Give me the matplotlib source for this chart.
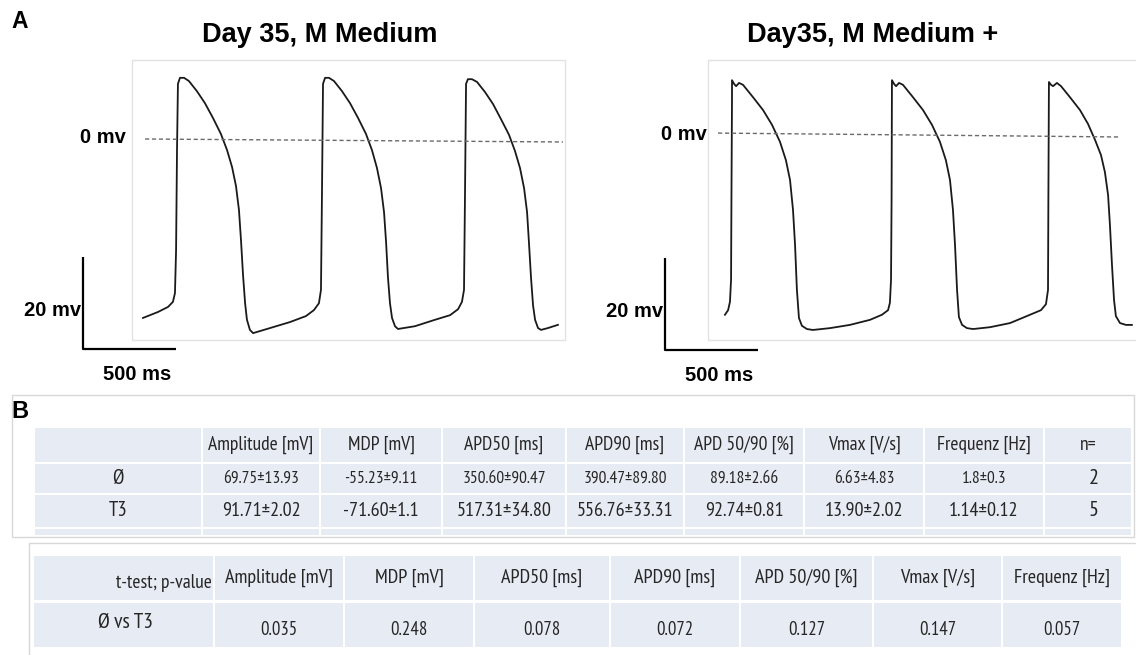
import matplotlib
matplotlib.use("Agg")
import matplotlib.pyplot as plt
from matplotlib.patches import Rectangle

# traced action potentials, (time [ms], voltage [mV])
trace_left = [
    (59, -38.9), (140, -37.6), (194, -36.5), (220, -35.4), (231, -33.5), (237, -24.1), (242, -2.4),
    (247, 12.0), (258, 13.3), (280, 13.3), (306, 12.6), (349, 10.4), (392, 7.8), (435, 4.6),
    (478, 1.1), (511, -2.4), (538, -6.1), (559, -10.2), (575, -15.4), (586, -22.0), (597, -29.6),
    (608, -35.7), (618, -39.3), (634, -41.5), (651, -42.2), (742, -41.1), (849, -39.8), (935, -38.5),
    (978, -37.2), (1005, -35.7), (1016, -32.8), (1021, -13.3), (1027, 12.0),
    (1038, 13.3), (1059, 13.3), (1086, 12.6), (1129, 10.4), (1172, 7.8), (1215, 4.6), (1258, 1.1),
    (1290, -2.4), (1317, -6.3), (1339, -10.7), (1355, -15.9), (1366, -22.4), (1376, -30.0),
    (1387, -35.7), (1398, -38.9), (1414, -40.7), (1430, -41.3), (1521, -40.7), (1629, -39.3),
    (1710, -38.3), (1753, -37.0), (1774, -35.4), (1785, -32.8), (1790, -13.3), (1796, 12.0),
    (1806, 13.0), (1828, 13.0), (1855, 12.4), (1898, 10.2), (1941, 7.6), (1984, 4.3), (2027, 0.9),
    (2059, -2.6), (2086, -6.3), (2108, -10.7), (2124, -15.9), (2134, -22.4), (2145, -30.0),
    (2156, -36.1), (2167, -39.3), (2183, -41.1), (2199, -41.5), (2236, -41.1), (2290, -40.4),
]
trace_right = [
    (91, -39.3), (108, -38.3), (118, -36.5), (124, -31.7), (126, -14.3), (129, 7.4), (129, 11.7),
    (140, 10.9), (151, 10.4), (167, 11.1), (188, 10.7), (242, 8.0), (296, 5.2), (344, 2.0),
    (387, -1.7), (419, -5.7), (441, -10.0), (457, -16.5), (468, -24.1), (478, -33.9), (489, -40.0),
    (505, -41.7), (532, -42.4), (564, -42.6), (656, -42.2), (763, -41.5), (871, -40.4), (935, -39.3),
    (968, -38.3), (978, -36.7), (984, -31.7), (987, -14.3), (989, 11.7),
    (1000, 10.9), (1011, 10.4), (1027, 11.1), (1048, 10.7), (1102, 8.0), (1156, 5.2), (1204, 2.0),
    (1247, -1.7), (1279, -5.7), (1301, -10.0), (1317, -16.5), (1328, -24.1), (1339, -33.9),
    (1349, -39.8), (1366, -41.5), (1392, -42.2), (1425, -42.4), (1516, -42.0), (1624, -41.1),
    (1731, -39.3), (1790, -38.3), (1817, -37.0), (1828, -33.9), (1830, -14.3), (1833, 11.3),
    (1844, 10.7), (1855, 10.4), (1876, 11.1), (1898, 10.4), (1946, 8.0), (2000, 5.2), (2043, 2.2),
    (2081, -1.3), (2113, -4.6), (2134, -8.3), (2151, -13.3), (2161, -19.8), (2172, -28.5),
    (2183, -36.1), (2193, -39.6), (2215, -41.1), (2247, -41.5), (2279, -41.5),
]
# 0 mV reference lines (start, end)
zero_left = [(70, 0.0), (2317, -0.65)]
zero_right = [(54, 0.2), (2215, -0.65)]

titles = ["Day 35, M Medium", "Day35, M Medium +"]
scale_ms = 500
scale_mv = 20

# table B
col_names = ["Amplitude [mV]", "MDP [mV]", "APD50 [ms]", "APD90 [ms]", "APD 50/90 [%]",
             "Vmax [V/s]", "Frequenz [Hz]", "n="]
row_names = ["Ø", "T3"]
ctrl_vals = ["69.75±13.93", "-55.23±9.11", "350.60±90.47", "390.47±89.80", "89.18±2.66",
             "6.63±4.83", "1.8±0.3", "2"]
t3_vals = ["91.71±2.02", "-71.60±1.1", "517.31±34.80", "556.76±33.31", "92.74±0.81",
           "13.90±2.02", "1.14±0.12", "5"]
ttest_cols = col_names[:-1]
p_vals = ["0.035", "0.248", "0.078", "0.072", "0.127", "0.147", "0.057"]

W, H = 1136, 655
fig = plt.figure(figsize=(W / 100, H / 100), dpi=100)

# background axes in pixel units for labels and tables
bg = fig.add_axes([0, 0, 1, 1])
bg.set_xlim(0, W)
bg.set_ylim(H, 0)
bg.axis("off")

BOLD = "Liberation Sans"
TAB = "PT Sans Narrow"
CELL = "#e7ebf3"
TXT = "#262626"


def trace_panel(px_left, px_right, x0, y0, trace, zero, box_right, clip_box):
    # px per ms / px per mV taken from the scale bars
    kx, ky = 0.186, 4.6
    ax = fig.add_axes([px_left / W, 1 - 392 / H, (px_right - px_left) / W, (392 - 45) / H])
    ax.set_xlim((px_left - x0) / kx, (px_right - x0) / kx)
    ax.set_ylim((y0 - 392) / ky, (y0 - 45) / ky)
    ax.axis("off")
    ax.patch.set_alpha(0)
    ax.add_patch(Rectangle((0, (y0 - 340) / ky), box_right, 280 / ky, fc="none",
                           ec="#e2e2e2", lw=1, clip_on=clip_box))
    t, v = zip(*trace)
    ax.plot(t, v, color="#1a1a1a", lw=1.3, solid_joinstyle="round")
    zt, zv = zip(*zero)
    ax.plot(zt, zv, color="#6a6a6a", lw=1, ls=(0, (3, 2)))
    return ax


axl = trace_panel(0, 568, 132, 139, trace_left, zero_left, 2328, False)
axr = trace_panel(570, 1136, 708, 134, trace_right, zero_right, 2330, True)

# scale bars and voltage labels
for ax, bx, by in [(axl, -263, -45.7), (axr, -231, -47.0)]:
    ax.plot([bx, bx, bx + scale_ms], [by + scale_mv, by, by], color="black", lw=1.6,
            clip_on=False, solid_capstyle="butt")
    ax.text(bx - 8, by + 8.5, "%d mv" % scale_mv, ha="right", va="center",
            family=BOLD, weight="bold", fontsize=14.5)
    ax.text(bx + scale_ms / 2 + 40, by - 5.6, "%d ms" % scale_ms, ha="center", va="center",
            family=BOLD, weight="bold", fontsize=14.5)
axl.text(-32, 0.4, "0 mv", ha="right", va="center", family=BOLD, weight="bold", fontsize=14.5)
axr.text(-5, -0.2, "0 mv", ha="right", va="center", family=BOLD, weight="bold", fontsize=14.5)

bg.text(320, 35, titles[0], ha="center", va="center", family=BOLD, weight="bold", fontsize=19.5)
bg.text(873, 35, titles[1], ha="center", va="center", family=BOLD, weight="bold", fontsize=19.5)
bg.text(20, 21, "A", ha="center", va="center", family=BOLD, weight="bold", fontsize=16.5)
bg.text(20, 411, "B", ha="center", va="center", family=BOLD, weight="bold", fontsize=17)


def cells(xs, rows):
    for y0, y1 in rows:
        for x0, x1 in zip(xs[:-1], xs[1:]):
            bg.add_patch(Rectangle((x0 + 1, y0), x1 - x0 - 2, y1 - y0, fc=CELL, ec="none"))


# table 1: means
bg.add_patch(Rectangle((12, 395), 1122, 142, fc="none", ec="#d8d8d8", lw=1))
xs1 = [34, 202, 320, 442, 566, 684, 804, 924, 1044, 1132]
cells(xs1, [(428, 462), (464, 493), (495, 527), (529, 535)])
mid1 = [(a + b) / 2 for a, b in zip(xs1[:-1], xs1[1:])]
for x, name in zip(mid1[1:], col_names):
    bg.text(x, 445, name, ha="center", va="center", family=TAB, fontsize=14, color=TXT)
bg.text(mid1[0], 478, row_names[0], ha="center", va="center", family=TAB, fontsize=15, color=TXT)
bg.text(mid1[0], 510, row_names[1], ha="center", va="center", family=TAB, fontsize=15, color=TXT)
for i, (x, a, b) in enumerate(zip(mid1[1:], ctrl_vals, t3_vals)):
    big = i == len(ctrl_vals) - 1
    bg.text(x + (6 if big else 0), 479, a, ha="center", va="center", family=TAB,
            fontsize=16 if big else 12.5, color=TXT)
    bg.text(x + (6 if big else 0), 511, b, ha="center", va="center", family=TAB,
            fontsize=16 if big else 14.5, color=TXT)

# table 2: t-test
bg.add_patch(Rectangle((29, 543), 1130, 130, fc="none", ec="#d8d8d8", lw=1))
xs2 = [33, 214, 344, 474, 610, 740, 873, 1002, 1122]
cells(xs2, [(556, 600), (603, 647)])
mid2 = [(a + b) / 2 for a, b in zip(xs2[:-1], xs2[1:])]
bg.text(212, 583, "t-test; p-value", ha="right", va="center", family=TAB, fontsize=14, color=TXT)
for x, name in zip(mid2[1:], ttest_cols):
    bg.text(x, 578, name, ha="center", va="center", family=TAB, fontsize=14.5, color=TXT)
bg.text(125, 623, "Ø vs T3", ha="center", va="center", family=TAB, fontsize=15.5, color=TXT)
for x, p in zip(mid2[1:], p_vals):
    bg.text(x, 630, p, ha="center", va="center", family=TAB, fontsize=13.5, color=TXT)

fig.savefig("out.png", dpi=100)
